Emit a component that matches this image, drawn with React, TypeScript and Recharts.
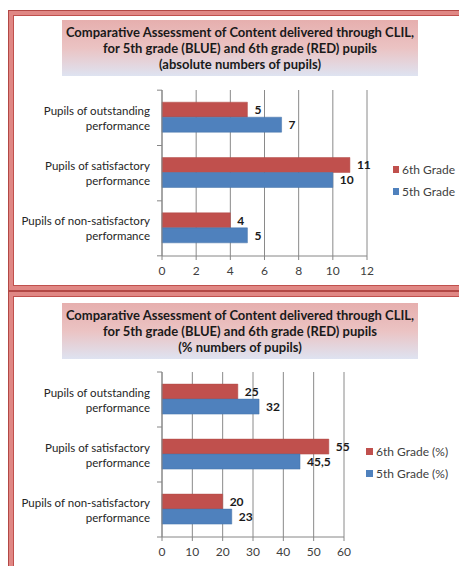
import React from 'react';
import { BarChart, Bar, XAxis, YAxis, CartesianGrid, Legend, LabelList } from 'recharts';

const categories = [
  'Pupils of outstanding performance',
  'Pupils of satisfactory performance',
  'Pupils of non-satisfactory performance',
];
const grade6Abs = [5, 11, 4];
const grade5Abs = [7, 10, 5];
const grade6Pct = [25, 55, 20];
const grade5Pct = [32, 45.5, 23];
const absTicks = [0, 2, 4, 6, 8, 10, 12];
const pctTicks = [0, 10, 20, 30, 40, 50, 60];
const titleAbs = [
  'Comparative Assessment of Content delivered through CLIL,',
  'for 5th grade (BLUE) and 6th grade (RED) pupils',
  '(absolute numbers of pupils)',
];
const titlePct = [
  'Comparative Assessment of Content delivered through CLIL,',
  'for 5th grade (BLUE) and 6th grade (RED) pupils',
  '(% numbers of pupils)',
];
const seriesAbs = ['6th Grade', '5th Grade'];
const seriesPct = ['6th Grade (%)', '5th Grade (%)'];

const RED = '#C0504D';
const BLUE = '#4F81BD';
const FONT = 'Lato, "Open Sans", sans-serif';

const absData = categories.map((c, i) => ({ cat: c, g6: grade6Abs[i], g5: grade5Abs[i] }));
const pctData = categories.map((c, i) => ({ cat: c, g6: grade6Pct[i], g5: grade5Pct[i] }));

const CatTick = (props: any) => {
  const { y, payload, bandSize } = props;
  const ax = 162;
  const tx = 150;
  const words = String(payload.value).split(' ');
  const last = words.pop();
  const line1 = words.join(' ');
  const half = (bandSize || 55) / 2;
  return (
    <g>
      <line x1={ax - 5} x2={ax} y1={y - half} y2={y - half} stroke="#868686" />
      {payload.index === categories.length - 1 && (
        <line x1={ax - 5} x2={ax} y1={y + half} y2={y + half} stroke="#868686" />
      )}
      <text x={tx} y={y} textAnchor="end" fontSize={11.5} fill="#262626" fontFamily={FONT}>
        <tspan x={tx} dy={-3}>{line1}</tspan>
        <tspan x={tx} dy={15}>{last}</tspan>
      </text>
    </g>
  );
};

const makeLegend = (padLeft: number, names: string[]) => (props: any) => {
  const items = [...(props.payload || [])].sort(
    (a: any, b: any) => names.indexOf(a.value) - names.indexOf(b.value)
  );
  return (
    <div style={{ paddingLeft: padLeft, fontFamily: FONT, fontSize: 12, color: '#404040' }}>
      {items.map((it: any, i: number) => (
        <div key={i} style={{ display: 'flex', alignItems: 'center', height: 22, whiteSpace: 'nowrap' }}>
          <span style={{ display: 'inline-block', width: 7, height: 7, background: it.color, marginRight: 3 }} />
          <span>{it.value}</span>
        </div>
      ))}
    </div>
  );
};

const fmt = (v: any) => String(v).replace('.', ',');

const Frame = ({ top, height }: { top: number; height: number }) => (
  <div
    style={{
      position: 'absolute',
      left: 8,
      top,
      width: 460,
      height,
      boxSizing: 'border-box',
      border: '1px solid #B24845',
      boxShadow: 'inset 0 0 0 4px #E08784, inset 0 0 0 5px #C0504D',
      background: '#fff',
    }}
  />
);

const Title = ({ top, lines }: { top: number; lines: string[] }) => (
  <div
    style={{
      position: 'absolute',
      left: 62,
      top,
      width: 356,
      height: 56,
      background: 'linear-gradient(#E6AFAE 0%, #EBC3C3 50%, #DEE3F1 100%)',
      fontFamily: FONT,
      fontWeight: 700,
      fontSize: 13,
      lineHeight: '16px',
      color: '#1a1a1a',
      textAlign: 'center',
      paddingTop: 4,
      boxSizing: 'border-box',
      whiteSpace: 'nowrap',
    }}
  >
    {lines.map((l, i) => (
      <div key={i}>{l}</div>
    ))}
  </div>
);

const Chart = (p: {
  top: number;
  data: any[];
  ticks: number[];
  names: string[];
  legendWidth: number;
  legendPad: number;
  bottom: number;
}) => (
  <div style={{ position: 'absolute', left: 0, top: p.top }}>
    <BarChart
      width={459}
      height={200}
      layout="vertical"
      data={p.data}
      margin={{ top: 10, right: 4, bottom: p.bottom, left: 0 }}
      barCategoryGap="22%"
      barGap={0}
    >
      <CartesianGrid horizontal={false} stroke="#8a8a8a" />
      <XAxis
        type="number"
        domain={[p.ticks[0], p.ticks[p.ticks.length - 1]]}
        ticks={p.ticks}
        interval={0}
        height={20}
        tickSize={4}
        tickMargin={6}
        stroke="#868686"
        tick={{ fill: '#404040', fontSize: 12, fontFamily: FONT }}
      />
      <YAxis
        type="category"
        dataKey="cat"
        width={162}
        tickLine={false}
        stroke="#868686"
        tick={<CatTick />}
      />
      <Legend
        layout="vertical"
        align="right"
        verticalAlign="middle"
        wrapperStyle={{ width: p.legendWidth }}
        content={makeLegend(p.legendPad, p.names)}
      />
      <Bar dataKey="g6" name={p.names[0]} fill={RED} stroke="#B04A47" strokeWidth={0.5} isAnimationActive={false}>
        <LabelList dataKey="g6" position="right" offset={7} formatter={fmt} style={{ fontWeight: 700, fontSize: 12, fill: '#1a1a1a', fontFamily: FONT }} />
      </Bar>
      <Bar dataKey="g5" name={p.names[1]} fill={BLUE} stroke="#4572A8" strokeWidth={0.5} isAnimationActive={false}>
        <LabelList dataKey="g5" position="right" offset={7} formatter={fmt} style={{ fontWeight: 700, fontSize: 12, fill: '#1a1a1a', fontFamily: FONT }} />
      </Bar>
    </BarChart>
  </div>
);

export default function App() {
  return (
    <div style={{ position: 'absolute', left: 0, top: 0, width: 459, height: 566, overflow: 'hidden', background: '#fff' }}>
      <Frame top={10} height={281} />
      <Frame top={291} height={300} />
      <Title top={20} lines={titleAbs} />
      <Title top={303} lines={titlePct} />
      <Chart top={80} data={absData} ticks={absTicks} names={seriesAbs} legendWidth={88} legendPad={26} bottom={4} />
      <Chart top={362} data={pctData} ticks={pctTicks} names={seriesPct} legendWidth={111} legendPad={22} bottom={5} />
    </div>
  );
}
